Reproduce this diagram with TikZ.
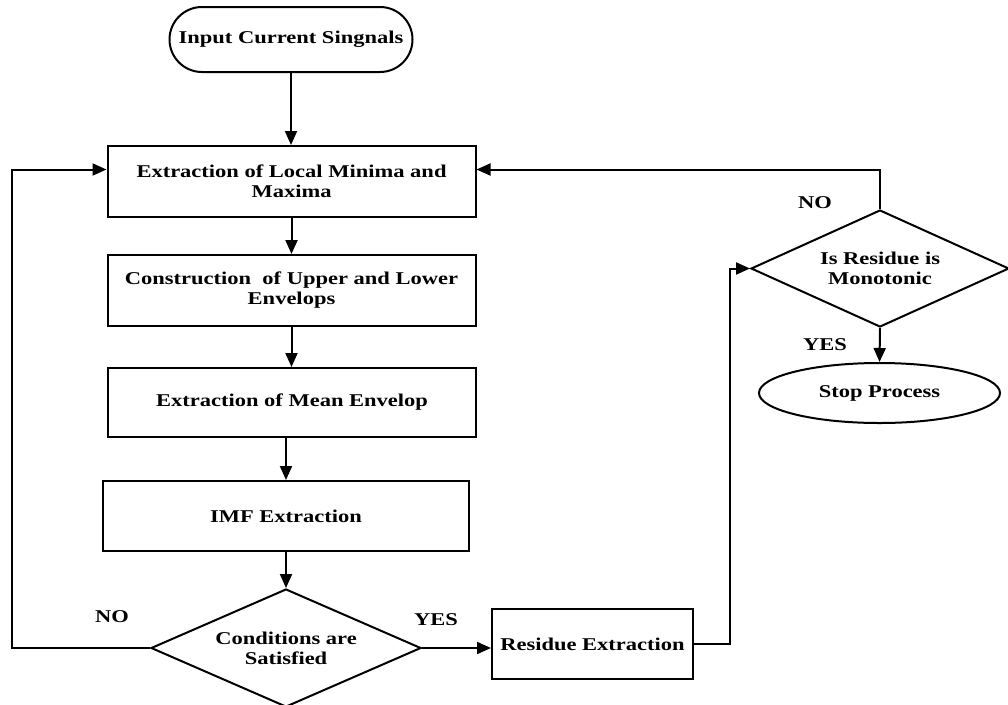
\documentclass[tikz,border=0pt]{standalone}
\usepackage{fontspec}
\setmainfont{Liberation Serif}[FakeStretch=1.25]
\usetikzlibrary{shapes.geometric,shapes.misc,arrows.meta}
\begin{document}
\begin{tikzpicture}[x=1pt,y=-1pt,
  txt/.style={font=\fontsize{18}{20}\selectfont\bfseries, align=center},
  box/.style={txt, draw, line width=2pt, minimum width=368pt, minimum height=71pt, inner sep=0pt},
  term/.style={txt, draw, line width=2pt, rounded rectangle, minimum width=243pt, minimum height=65pt, inner sep=0pt},
  dec/.style={txt, draw, line width=2pt, diamond, aspect=2.2, inner sep=0pt},
  oval/.style={txt, draw, line width=2pt, ellipse, inner sep=0pt},
  lbl/.style={txt},
  arr/.style={line width=2pt, -{Triangle[length=14pt,width=12pt]}}]
\useasboundingbox (0,0) rectangle (1008,704);
\fill[white] (0,0) rectangle (1008,704);

\node[term] (in) at (291,39.5) {Input Current Singnals};
\node[box] (b1) at (291.5,181.5) {Extraction of Local Minima and\\Maxima};
\node[box] (b2) at (291.5,290.5) {Construction\ \ of Upper and Lower\\Envelops};
\node[box, minimum height=69pt] (b3) at (292,402.5) {Extraction of Mean Envelop};
\node[box, minimum width=366pt, minimum height=70pt] (b4) at (286,516) {IMF Extraction};
\node[dec, minimum width=270pt, minimum height=118pt] (d1) at (286,648) {Conditions are\\Satisfied};
\node[box, minimum width=201pt, minimum height=70pt] (res) at (592.5,644) {Residue Extraction};
\node[dec, minimum width=258pt, minimum height=117pt] (d2) at (880,268.5) {Is Residue is\\Monotonic};
\node[oval, minimum width=241pt, minimum height=60pt] (stop) at (879.5,393) {Stop Process};

\node[lbl] (no1) at (112,617) {NO};
\node[lbl] (yes1) at (436,620) {YES};
\node[lbl] (no2) at (815,203) {NO};
\node[lbl] (yes2) at (825,345) {YES};

\coordinate (lp) at (12,648);
\coordinate (rp) at (730,644);

\draw[arr] (in.south) -- (in.south |- b1.north);
\draw[arr] (b1) -- (b2);
\draw[arr] (b2.south) -- (b2.south |- b3.north);
\draw[arr] (b4.north |- b3.south) -- (b4.north);
\draw[arr] (b4.south) -- (d1.north);
\draw[arr] (d1.west) -- (lp) |- ([yshift=12pt]b1.west);
\draw[arr] (d1.east) -- (d1.east -| res.west);
\draw[arr] (res.east) -- (rp) |- (d2.west);
\draw[arr] (d2.north) |- ([yshift=12pt]b1.east);
\draw[arr] (d2.south) -- (stop.north);
\end{tikzpicture}
\end{document}
